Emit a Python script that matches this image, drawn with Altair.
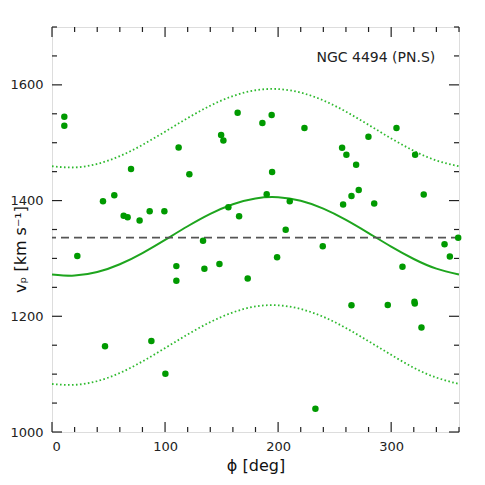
import altair as alt
import pandas as pd

# ---- data ----
phi = [10.9, 10.9, 69.9, 45.1, 55.1, 63.4, 66.9, 77.5, 86.4, 99.4,
       112.0, 164.2, 194.3, 186.1, 223.3, 149.6, 151.6, 121.5, 194.7, 189.9,
       210.3, 156.0, 165.5, 206.7, 304.7, 279.9, 256.6, 260.4, 269.0, 321.2,
       271.3, 264.9, 257.5, 285.0, 328.8, 22.4, 110.0, 110.0, 46.9, 87.9,
       100.3, 133.6, 134.8, 148.1, 173.1, 199.1, 239.5, 347.2, 310.0, 264.9,
       297.0, 320.6, 320.9, 326.8, 233.0, 359.3, 351.9]
vel = [1544.8, 1529.3, 1454.7, 1398.8, 1409.1, 1373.6, 1371.2, 1365.5, 1381.6, 1381.6,
       1491.9, 1551.7, 1547.8, 1534.0, 1525.3, 1513.3, 1504.0, 1445.3, 1449.5, 1410.9,
       1398.8, 1388.4, 1372.9, 1349.5, 1525.3, 1510.3, 1491.4, 1479.3, 1462.1, 1479.3,
       1418.4, 1408.1, 1393.1, 1394.8, 1410.3, 1304.0, 1286.7, 1261.6, 1148.3, 1157.4,
       1100.5, 1330.5, 1282.2, 1290.2, 1265.5, 1302.2, 1321.2, 1324.7, 1285.7, 1219.0,
       1219.5, 1225.3, 1221.9, 1180.5, 1040.2, 1335.7, 1303.4]

curve_phi = [0, 20, 40, 60, 80, 100, 120, 140, 160, 180, 200, 220, 240, 260, 280, 300, 320, 340, 360]
curve_mid = [1272.3, 1270.3, 1276.4, 1289.9, 1309.3, 1332.1, 1355.6, 1377.0, 1393.7, 1403.7,
             1405.7, 1399.6, 1386.1, 1366.7, 1343.9, 1320.4, 1299.0, 1282.3, 1272.3]
curve_hi = [1459.3, 1457.3, 1463.4, 1476.9, 1496.3, 1519.1, 1542.6, 1564.0, 1580.7, 1590.7,
            1592.7, 1586.6, 1573.1, 1553.7, 1530.9, 1507.4, 1486.0, 1469.3, 1459.3]
curve_lo = [1083.0, 1081.5, 1088.0, 1102.0, 1122.0, 1145.0, 1168.6, 1190.0, 1206.7, 1217.0,
            1219.0, 1212.6, 1199.1, 1179.7, 1156.9, 1133.4, 1111.0, 1094.0, 1083.0]

v_sys = [1336]

label_text = ["NGC 4494 (PN.S)"]
label_phi = [339]
label_v = [1646]

x_minor = [v for v in range(0, 361, 20) if v % 100 != 0]
x_major = [0, 100, 200, 300]
y_minor = [v for v in range(1000, 1701, 50) if v % 200 != 0]
y_major = [1000, 1200, 1400, 1600]

# ---- tables ----
pts = pd.DataFrame({"phi": phi, "v": vel})
curves = pd.DataFrame({"phi": curve_phi, "mid": curve_mid, "hi": curve_hi, "lo": curve_lo})
sysdf = pd.DataFrame({"v": v_sys})
lab = pd.DataFrame({"phi": label_phi, "v": label_v, "t": label_text})
xt = pd.DataFrame({"phi": x_major + x_minor,
                   "len": [10] * len(x_major) + [5] * len(x_minor)})
yt = pd.DataFrame({"v": y_major + y_minor,
                   "len": [10] * len(y_major) + [5] * len(y_minor)})

W, H = 407, 405
FONT = "DejaVu Sans"
xs = alt.Scale(domain=[0, 360], nice=False, zero=False)
ys = alt.Scale(domain=[1000, 1700], nice=False, zero=False)

GREEN_PT = "#009a00"
GREEN_LN = "#1ea51e"
GREEN_DOT = "#2fba2f"
TICK = "#222222"

# label axes (ticks are drawn as inward rules below)
x_lab_axis = alt.Axis(orient="bottom", values=x_major, ticks=False, tickSize=0, domain=False,
                      labelPadding=8, labelFont=FONT, labelFontSize=13, labelColor="#222",
                      format="d",
                      title="\u03d5  [deg]", titleFont=FONT, titleFontSize=16,
                      titleFontWeight="normal", titleColor="#111", titlePadding=4, grid=False)
y_lab_axis = alt.Axis(orient="left", values=y_major, ticks=False, tickSize=0, domain=False,
                      labelPadding=9, labelFont=FONT, labelFontSize=13, labelColor="#222",
                      format="d",
                      title="v\u209a  [km s\u207b\u00b9]", titleFont=FONT, titleFontSize=16,
                      titleFontWeight="normal", titleColor="#111", grid=False,
                      titleX=-32, titleY=222, titleAngle=-90, titleBaseline="middle",
                      titleAlign="center")

points = alt.Chart(pts).mark_circle(size=42, color=GREEN_PT, opacity=1).encode(
    x=alt.X("phi:Q", scale=xs, axis=x_lab_axis),
    y=alt.Y("v:Q", scale=ys, axis=y_lab_axis),
)

solid = alt.Chart(curves).mark_line(color=GREEN_LN, strokeWidth=2, interpolate="natural").encode(
    x=alt.X("phi:Q", scale=xs, axis=None),
    y=alt.Y("mid:Q", scale=ys, axis=None),
)

upper = alt.Chart(curves).mark_line(color=GREEN_DOT, strokeWidth=1.8, strokeDash=[1.6, 2.4],
                                    interpolate="natural").encode(
    x=alt.X("phi:Q", scale=xs, axis=None),
    y=alt.Y("hi:Q", scale=ys, axis=None),
)

lower = alt.Chart(curves).mark_line(color=GREEN_DOT, strokeWidth=1.8, strokeDash=[1.6, 2.4],
                                    interpolate="natural").encode(
    x=alt.X("phi:Q", scale=xs, axis=None),
    y=alt.Y("lo:Q", scale=ys, axis=None),
)

dashed = alt.Chart(sysdf).mark_rule(color="#555555", strokeWidth=1.6, strokeDash=[8, 5]).encode(
    y=alt.Y("v:Q", scale=ys, axis=None),
)

label = alt.Chart(lab).mark_text(align="right", baseline="middle", font=FONT, fontSize=14,
                                 color="#222").encode(
    x=alt.X("phi:Q", scale=xs, axis=None),
    y=alt.Y("v:Q", scale=ys, axis=None),
    text="t:N",
)

# inward tick marks on all four sides (tick positions from the tick lists)
tick_bottom = alt.Chart(xt).transform_calculate(y0=f"{H}", y1=f"{H} - datum.len").mark_rule(
    color=TICK, strokeWidth=1.2).encode(
    x=alt.X("phi:Q", scale=xs, axis=None),
    y=alt.Y("y0:Q", scale=None, axis=None),
    y2="y1:Q",
)
tick_top = alt.Chart(xt).transform_calculate(y0="0", y1="datum.len").mark_rule(
    color=TICK, strokeWidth=1.2).encode(
    x=alt.X("phi:Q", scale=xs, axis=None),
    y=alt.Y("y0:Q", scale=None, axis=None),
    y2="y1:Q",
)
tick_left = alt.Chart(yt).transform_calculate(x0="0", x1="datum.len").mark_rule(
    color=TICK, strokeWidth=1.2).encode(
    y=alt.Y("v:Q", scale=ys, axis=None),
    x=alt.X("x0:Q", scale=None, axis=None),
    x2="x1:Q",
)
tick_right = alt.Chart(yt).transform_calculate(x0=f"{W}", x1=f"{W} - datum.len").mark_rule(
    color=TICK, strokeWidth=1.2).encode(
    y=alt.Y("v:Q", scale=ys, axis=None),
    x=alt.X("x0:Q", scale=None, axis=None),
    x2="x1:Q",
)

chart = alt.layer(
    tick_bottom, tick_top, tick_left, tick_right,
    upper, lower, solid, dashed, points, label
).resolve_scale(
    x="independent", y="independent"
).properties(
    width=W, height=H,
    autosize=alt.AutoSizeParams(type="none"),
    padding={"left": 44, "top": 19, "right": 18, "bottom": 45},
).configure_view(
    stroke="#222", strokeWidth=1.3
).configure(background="white")

chart.save("out.html", embed_options={"renderer": "svg", "actions": False})
